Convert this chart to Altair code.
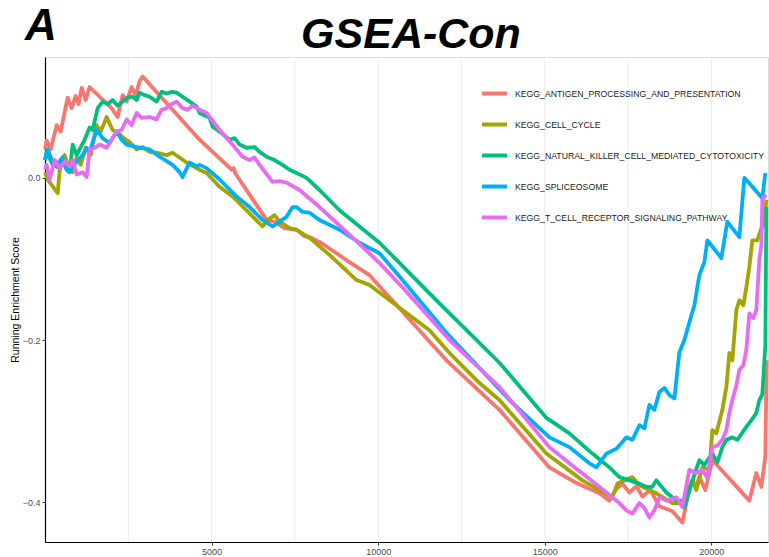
import altair as alt
import pandas as pd

# ---- data ----
series_names = [
    "KEGG_ANTIGEN_PROCESSING_AND_PRESENTATION",
    "KEGG_CELL_CYCLE",
    "KEGG_NATURAL_KILLER_CELL_MEDIATED_CYTOTOXICITY",
    "KEGG_SPLICEOSOME",
    "KEGG_T_CELL_RECEPTOR_SIGNALING_PATHWAY",
]
series_colors = ["#F8766D", "#A3A500", "#00BF7D", "#00B0F6", "#E76BF3"]

rank_antigen = [0, 50, 170, 350, 470, 680, 800, 920, 1010, 1100, 1220, 1340, 1640, 2000, 2180, 2330, 2450, 2600, 2720, 2840, 2930,
                4640, 5600, 5660, 5720, 6650, 6890, 7190, 7550, 7790, 7940, 8240, 8750, 9140, 9740, 12050, 13640, 15140, 15890,
                16640, 16940, 17120, 17330, 17540, 17750, 17930, 18170, 18440, 18830, 19130, 19280, 19430, 19550, 19640, 19820,
                20030, 21140, 21350, 21500, 21620, 21660]
es_antigen = [0.035, 0.046, 0.035, 0.065, 0.057, 0.099, 0.086, 0.101, 0.091, 0.111, 0.096, 0.112, 0.100, 0.086, 0.075, 0.102, 0.094,
              0.112, 0.102, 0.119, 0.125, 0.047, 0.010, 0.012, 0.005, -0.052, -0.054, -0.062, -0.064, -0.072, -0.073, -0.079,
              -0.093, -0.104, -0.120, -0.225, -0.286, -0.357, -0.375, -0.389, -0.398, -0.385, -0.377, -0.388, -0.380, -0.393,
              -0.385, -0.405, -0.411, -0.425, -0.395, -0.373, -0.381, -0.369, -0.385, -0.348, -0.398, -0.364, -0.381, -0.344,
              -0.225]

rank_cycle = [0, 80, 380, 470, 590, 710, 830, 950, 1070, 1220, 1370, 1550, 1670, 1850, 2030, 2180, 2360, 2540, 2750, 2930, 3140,
              3350, 3650, 3830, 4250, 4640, 4850, 5240, 5630, 6050, 6530, 6680, 6890, 7040, 7340, 7550, 7940, 8540, 9350, 9740,
              10730, 11540, 12140, 13040, 13640, 15050, 16130, 16640, 17030, 17180, 17630, 17840, 18350, 18830, 19130, 19340,
              19430, 19550, 19730, 19940, 20030, 20150, 20330, 20450, 20540, 20630, 20750, 20840, 20960, 21050, 21140, 21230,
              21380, 21500, 21590, 21650]
es_cycle = [0.007, -0.002, -0.019, 0.022, 0.028, 0.012, 0.007, 0.025, 0.016, 0.037, 0.028, 0.065, 0.057, 0.075, 0.059, 0.056,
            0.049, 0.044, 0.035, 0.038, 0.032, 0.031, 0.028, 0.031, 0.019, 0.010, 0.006, -0.011, -0.023, -0.040, -0.060, -0.052,
            -0.046, -0.054, -0.062, -0.064, -0.074, -0.095, -0.126, -0.132, -0.163, -0.188, -0.216, -0.253, -0.274, -0.340,
            -0.373, -0.385, -0.394, -0.377, -0.369, -0.379, -0.389, -0.401, -0.401, -0.381, -0.373, -0.385, -0.357, -0.360,
            -0.311, -0.315, -0.286, -0.258, -0.216, -0.225, -0.163, -0.151, -0.157, -0.135, -0.110, -0.077, -0.077, -0.062,
            -0.056, -0.027]

rank_nk = [0, 50, 230, 440, 530, 650, 740, 830, 950, 1040, 1190, 1340, 1430, 1580, 1730, 1880, 2030, 2180, 2330, 2480, 2630,
           2750, 2840, 2990, 3140, 3350, 3500, 3650, 3800, 3950, 4130, 4340, 4550, 4640, 4940, 5030, 5240, 5540, 5690, 5840,
           6050, 6290, 6440, 6650, 6890, 7130, 7340, 7550, 7850, 8240, 8840, 10040, 11750, 13640, 15050, 15740, 16430, 16940,
           17240, 17840, 18050, 18230, 18350, 18650, 18950, 19130, 19190, 19340, 19460, 19640, 19790, 20030, 20180, 20330,
           20450, 20630, 20780, 21050, 21200, 21350, 21440, 21530, 21620, 21650]
es_nk = [0.022, 0.032, 0.016, 0.012, 0.022, 0.010, 0.007, 0.041, 0.028, 0.035, 0.047, 0.062, 0.059, 0.086, 0.094, 0.091, 0.096,
         0.089, 0.094, 0.099, 0.100, 0.096, 0.105, 0.102, 0.100, 0.094, 0.106, 0.104, 0.106, 0.105, 0.100, 0.094, 0.088, 0.080,
         0.074, 0.063, 0.057, 0.047, 0.049, 0.041, 0.037, 0.038, 0.032, 0.026, 0.022, 0.016, 0.010, 0.006, 0.000, -0.015,
         -0.040, -0.080, -0.151, -0.228, -0.296, -0.315, -0.340, -0.357, -0.369, -0.377, -0.381, -0.381, -0.373, -0.388,
         -0.398, -0.398, -0.406, -0.385, -0.370, -0.348, -0.354, -0.340, -0.351, -0.332, -0.323, -0.320, -0.323, -0.307,
         -0.299, -0.290, -0.274, -0.267, -0.206, -0.036]

rank_splice = [0, 80, 200, 350, 530, 650, 740, 830, 950, 1130, 1250, 1340, 1550, 1730, 1940, 2150, 2300, 2450, 2750, 3140, 3440,
               3830, 4040, 4130, 4340, 4550, 4640, 4850, 5240, 5750, 6140, 6530, 6830, 7040, 7250, 7430, 7550, 7730, 7940, 8240,
               8840, 9440, 10040, 10730, 12050, 13940, 15140, 15740, 16340, 16550, 16850, 17150, 17450, 17630, 17840, 17990,
               18140, 18290, 18440, 18590, 18740, 18890, 19040, 19190, 19340, 19490, 19640, 19790, 19880, 20300, 20480, 20630,
               20840, 20990, 21530, 21620]
es_splice = [0.022, 0.035, 0.022, 0.016, 0.025, 0.010, 0.007, 0.015, 0.020, 0.028, 0.037, 0.032, 0.059, 0.049, 0.043, 0.057,
             0.047, 0.041, 0.038, 0.035, 0.026, 0.016, 0.007, 0.001, 0.019, 0.014, 0.016, 0.012, -0.002, -0.023, -0.036, -0.052,
             -0.060, -0.054, -0.048, -0.036, -0.036, -0.042, -0.043, -0.052, -0.064, -0.080, -0.093, -0.126, -0.191, -0.274,
             -0.320, -0.332, -0.352, -0.357, -0.340, -0.334, -0.320, -0.323, -0.305, -0.309, -0.280, -0.286, -0.264, -0.259,
             -0.268, -0.272, -0.215, -0.200, -0.178, -0.157, -0.120, -0.104, -0.077, -0.099, -0.054, -0.062, -0.073, 0.000,
             -0.025, 0.006]

rank_tcr = [0, 50, 140, 290, 440, 590, 740, 830, 950, 1130, 1250, 1340, 1490, 1640, 1850, 2000, 2150, 2300, 2450, 2600, 2750,
            2900, 3140, 3350, 3500, 3650, 3800, 3950, 4130, 4280, 4430, 4640, 4850, 5240, 5630, 5930, 6140, 6290, 6440, 6830,
            7040, 7250, 7640, 8240, 9140, 10040, 10730, 12140, 13640, 15140, 15740, 16640, 17240, 17450, 17630, 17840, 17990,
            18140, 18290, 18440, 18650, 18950, 19130, 19340, 19550, 19730, 19880, 20030, 20180, 20330, 20450, 20540, 20630,
            20750, 20840, 20960, 21050, 21140, 21260, 21350, 21440, 21500, 21530, 21590, 21650]
es_tcr = [0.010, 0.016, -0.002, 0.022, 0.012, 0.020, 0.014, 0.022, 0.004, 0.007, 0.001, 0.035, 0.037, 0.041, 0.037, 0.047, 0.057,
          0.059, 0.072, 0.065, 0.080, 0.074, 0.075, 0.072, 0.084, 0.086, 0.091, 0.094, 0.086, 0.084, 0.089, 0.084, 0.080, 0.059,
          0.041, 0.026, 0.022, 0.025, 0.016, -0.005, -0.004, -0.006, -0.015, -0.036, -0.070, -0.105, -0.135, -0.200, -0.258,
          -0.332, -0.352, -0.381, -0.401, -0.410, -0.414, -0.401, -0.407, -0.419, -0.410, -0.394, -0.398, -0.394, -0.406,
          -0.360, -0.364, -0.360, -0.370, -0.332, -0.330, -0.323, -0.311, -0.290, -0.274, -0.256, -0.237, -0.231, -0.212,
          -0.167, -0.173, -0.163, -0.101, -0.083, -0.027, -0.023, -0.021]

x_ticks = [5000, 10000, 15000, 20000]
grid_positions = [2500, 5000, 7500, 10000, 12500, 15000, 17500, 20000]
y_ticks = [-0.4, -0.2, 0.0]
chart_title = "GSEA-Con"
panel_tag = "A"

# ---- build table ----
rows = []
for name, ranks, scores in zip(
    series_names,
    [rank_antigen, rank_cycle, rank_nk, rank_splice, rank_tcr],
    [es_antigen, es_cycle, es_nk, es_splice, es_tcr],
):
    for i, (r, s) in enumerate(zip(ranks, scores)):
        rows.append({"Description": name, "x": r, "runningScore": s, "order": i})
df = pd.DataFrame(rows)

FONT = "Liberation Sans"
x_scale = alt.Scale(domain=[0, 21700], nice=False, zero=False)
y_scale = alt.Scale(domain=[-0.449, 0.149], nice=False, zero=False)

x_axis = alt.Axis(
    values=x_ticks, format="d", title=None, grid=False,
    labelFontSize=9, labelColor="#4D4D4D", labelFont=FONT,
    tickSize=3, tickColor="#333333", labelPadding=2,
    domainColor="#000000", domainWidth=1.2,
)
y_axis = alt.Axis(
    values=y_ticks, format=".1f", title="Running Enrichment Score", grid=False,
    labelFontSize=9, labelColor="#4D4D4D", labelFont=FONT,
    tickSize=3, tickColor="#333333", labelPadding=2,
    domainColor="#000000", domainWidth=1.2,
    titleFont=FONT, titleFontSize=10.5, titleFontWeight="normal",
    titleColor="#000000", titlePadding=2,
)

grid = alt.Chart(pd.DataFrame({"x": grid_positions})).mark_rule(
    color="#EBEBEB", strokeWidth=1
).encode(x=alt.X("x:Q", scale=x_scale, axis=x_axis))

lines = alt.Chart(df).mark_line(strokeWidth=3.8, strokeJoin="round").encode(
    x=alt.X("x:Q", scale=x_scale, axis=x_axis),
    y=alt.Y("runningScore:Q", scale=y_scale, axis=y_axis),
    color=alt.Color(
        "Description:N",
        scale=alt.Scale(domain=series_names, range=series_colors),
        legend=alt.Legend(
            title=None, orient="none", legendX=435, legendY=22,
            symbolType="stroke", symbolSize=625, symbolStrokeWidth=4,
            labelFont=FONT, labelFontSize=8.7, labelColor="#1A1A1A",
            labelOffset=6, rowPadding=8, padding=0, labelLimit=400,
        ),
    ),
    order="order:Q",
)

panel_label = alt.Chart(pd.DataFrame({"t": [panel_tag]})).mark_text(
    font=FONT, fontSize=44, fontWeight="bold", fontStyle="italic",
    align="left", baseline="alphabetic", color="#000000",
).encode(text="t:N", x=alt.value(-20), y=alt.value(-17))

title_text = alt.Chart(pd.DataFrame({"t": [chart_title]})).mark_text(
    font=FONT, fontSize=43, fontWeight="bold", fontStyle="italic",
    align="center", baseline="alphabetic", color="#000000",
).encode(text="t:N", x=alt.value(366), y=alt.value(-9))

chart = alt.layer(grid, lines, panel_label, title_text).properties(
    width=723,
    height=485,
    autosize=alt.AutoSizeParams(type="none"),
    padding={"left": 45, "top": 57, "right": 1, "bottom": 15},
).configure_view(stroke=None).configure(background="white")

chart.save("out.html", embed_options={"renderer": "svg", "actions": False})
